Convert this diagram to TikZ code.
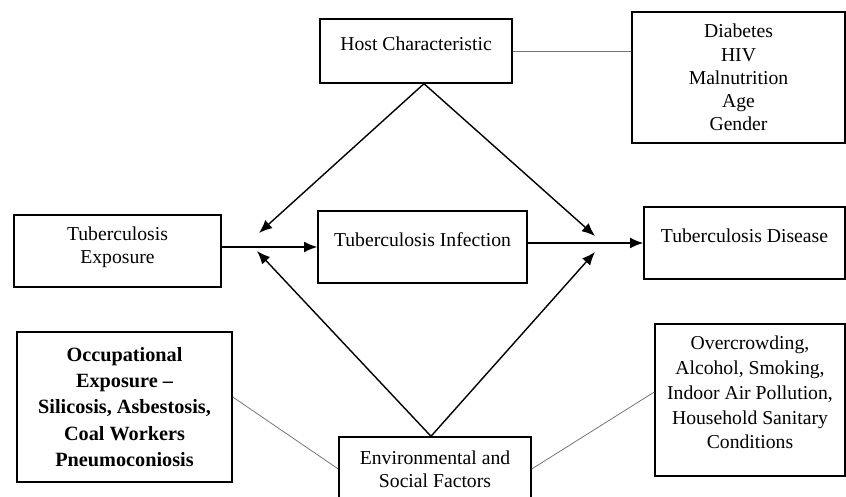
\documentclass[tikz,border=0pt]{standalone}
\usepackage{fontspec}
\setmainfont{Liberation Serif}
\usetikzlibrary{arrows.meta}

\begin{document}
\begin{tikzpicture}[x=0.025cm,y=-0.025cm,
        boite/.style={draw,line width=1pt,inner sep=0pt,align=center,font=\fontsize{14}{16.5}\selectfont},
        haut/.style={text depth=10pt},
        fleche/.style={line width=1pt,-{Latex[length=0.33cm,width=0.27cm]}},
        trait/.style={draw=black!55,line width=0.55pt}]
        \useasboundingbox (0,0) rectangle (846,497) ;
        % les cases
        \node[boite,haut,minimum width=4.8cm,minimum height=1.6cm] (hote) at (416,51) {Host Characteristic} ;
        \node[boite,minimum width=5.325cm,minimum height=3.275cm] (diab) at (738.5,77.5) {Diabetes\\HIV\\Malnutrition\\Age\\Gender} ;
        \node[boite,text depth=8pt,minimum width=5.175cm,minimum height=1.8cm] (expo) at (117.5,251) {Tuberculosis\\Exposure} ;
        \node[boite,haut,minimum width=5.225cm,minimum height=1.8cm] (infec) at (422.5,247) {Tuberculosis Infection} ;
        \node[boite,haut,minimum width=5.025cm,minimum height=1.8cm] (malad) at (744.5,243) {Tuberculosis Disease} ;
        \node[boite,font=\bfseries\fontsize{14.4}{18.8}\selectfont,minimum width=5.375cm,minimum height=3.75cm] (occup) at (124.5,407) {Occupational\\Exposure --\\Silicosis, Asbestosis,\\Coal Workers\\Pneumoconiosis} ;
        \node[boite,minimum width=4.8cm,minimum height=1.6cm] (envir) at (435,469) {Environmental and\\Social Factors} ;
        \node[boite,font=\fontsize{14}{17.6}\selectfont,text depth=10.6pt,minimum width=4.75cm,minimum height=3.8cm] (milieu) at (750,400) {Overcrowding,\\Alcohol, Smoking,\\Indoor Air Pollution,\\Household Sanitary\\Conditions} ;
        % les pointes libres
        \coordinate (hg) at (259,233) ;
        \coordinate (hd) at (595,236) ;
        \coordinate (eg) at (257,251) ;
        \coordinate (ed) at (595,252) ;
        % les fleches
        \draw[fleche] (infec.west -| expo.east) -- (infec.west) ;
        \draw[fleche] (malad.west -| infec.east) -- (malad.west) ;
        \draw[fleche] ([xshift=0.2cm]hote.south) -- (hg) ;
        \draw[fleche] ([xshift=0.2cm]hote.south) -- (hd) ;
        \draw[fleche] ([xshift=-0.1cm]envir.north) -- (eg) ;
        \draw[fleche] ([xshift=-0.1cm]envir.north) -- (ed) ;
        % les traits fins
        \draw[trait] (hote.east) -- (hote.east -| diab.west) ;
        \draw[trait] ([yshift=0.25cm]occup.east) -- (envir.west) ;
        \draw[trait] (envir.east) -- ([yshift=0.2cm]milieu.west) ;
    \end{tikzpicture}
\end{document}
